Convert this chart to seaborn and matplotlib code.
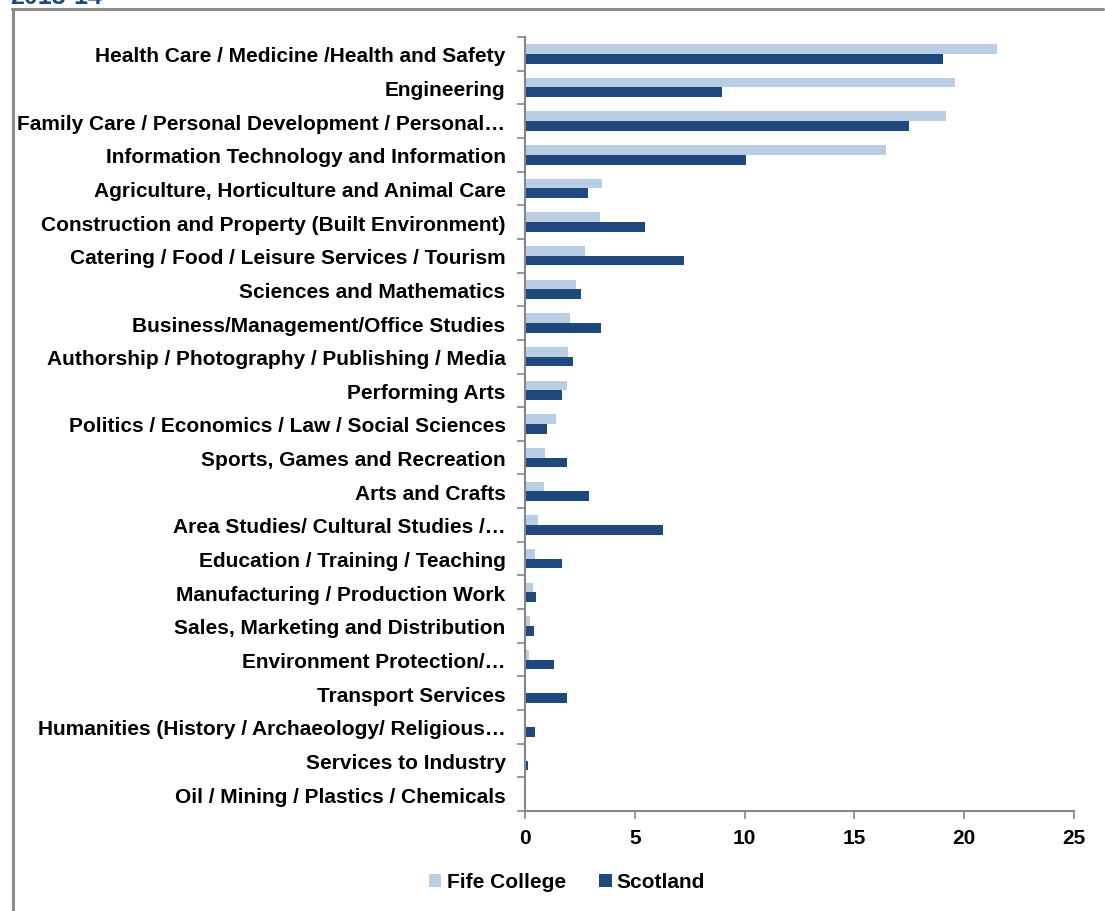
import pandas as pd
import matplotlib
import matplotlib.pyplot as plt
import seaborn as sns
from matplotlib.lines import Line2D

matplotlib.use('Agg')

# Subject areas, top to bottom as in the chart
categories = [
    'Health Care / Medicine /Health and Safety',
    'Engineering',
    'Family Care / Personal Development / Personal…',
    'Information Technology and Information',
    'Agriculture, Horticulture and Animal Care',
    'Construction and Property (Built Environment)',
    'Catering / Food / Leisure Services / Tourism',
    'Sciences and Mathematics',
    'Business/Management/Office Studies',
    'Authorship / Photography / Publishing / Media',
    'Performing Arts',
    'Politics / Economics / Law / Social Sciences',
    'Sports, Games and Recreation',
    'Arts and Crafts',
    'Area Studies/ Cultural Studies /…',
    'Education / Training / Teaching',
    'Manufacturing / Production Work',
    'Sales, Marketing and Distribution',
    'Environment Protection/…',
    'Transport Services',
    'Humanities (History / Archaeology/ Religious…',
    'Services to Industry',
    'Oil / Mining / Plastics / Chemicals',
]

fife_college = [21.5, 19.6, 19.15, 16.45, 3.5, 3.4, 2.75, 2.3, 2.05, 1.95, 1.9, 1.4,
                0.9, 0.85, 0.6, 0.45, 0.35, 0.25, 0.17, 0.03, 0.05, 0.02, 0.03]
scotland = [19.05, 8.95, 17.5, 10.05, 2.85, 5.45, 7.25, 2.55, 3.45, 2.2, 1.7, 1.02,
            1.9, 2.9, 6.3, 1.67, 0.5, 0.43, 1.3, 1.9, 0.47, 0.12, 0.03]

series = ['Fife College', 'Scotland']
colours = ['#B9CDE5', '#1F497D']
x_ticks = [0, 5, 10, 15, 20, 25]

df = pd.DataFrame({
    'Subject': categories * 2,
    'Percent': fife_college + scotland,
    'Series': [series[0]] * len(categories) + [series[1]] * len(categories),
})

sns.set_style('white')
plt.rcParams['font.family'] = ['Liberation Sans', 'DejaVu Sans']
plt.rcParams['font.weight'] = 'bold'
plt.rcParams['text.color'] = 'black'
plt.rcParams['xtick.color'] = 'black'
plt.rcParams['ytick.color'] = 'black'

W, H = 1105, 912
fs = 15
fig = plt.figure(figsize=(W / 100, H / 100), dpi=100)
ax = fig.add_axes([525 / W, 1 - 812 / H, (1074 - 525) / W, (812 - 38) / H])

sns.barplot(data=df, y='Subject', x='Percent', hue='Series', order=categories,
            hue_order=series, palette=colours, orient='h', width=0.58,
            linewidth=0, saturation=1, ax=ax)

# axes styling (Excel-like)
grey = '#868686'
ax.set_xlim(0, 25)
ax.set_ylim(len(categories) - 0.5, -0.5)
ax.set_xticks(x_ticks)
ax.set_xticklabels([str(t) for t in x_ticks], fontsize=fs, fontweight='bold')
ax.set_yticks([i - 0.5 for i in range(len(categories) + 1)])
ax.set_yticklabels([])
ax.set_yticks(range(len(categories)), minor=True)
ax.set_yticklabels(categories, minor=True, fontsize=fs, fontweight='bold')
ax.tick_params(axis='y', which='major', length=6, width=1.2, color=grey, direction='out', left=True)
ax.tick_params(axis='y', which='minor', length=0, pad=14)
ax.tick_params(axis='x', length=6, width=1.2, color=grey, labelcolor='black',
               direction='out', bottom=True, pad=6)
ax.set_xlabel('')
ax.set_ylabel('')
for s in ['top', 'right']:
    ax.spines[s].set_visible(False)
for s in ['left', 'bottom']:
    ax.spines[s].set_color(grey)
    ax.spines[s].set_linewidth(1.5)

leg = ax.legend(loc='center', bbox_to_anchor=(567 / W, 1 - 883 / H), bbox_transform=fig.transFigure,
                ncol=2, frameon=False, handlelength=0.6, handleheight=0.6, handletextpad=0.25,
                columnspacing=1.6, prop={'size': fs, 'weight': 'bold'})

# outer frame and cut-off heading
fig.add_artist(Line2D([12 / W, 1103 / W], [1 - 10 / H, 1 - 10 / H], color='#8C8C8C', lw=2.2))
fig.add_artist(Line2D([13 / W, 13 / W], [1 - 10 / H, 0], color='#8C8C8C', lw=2.2))
fig.text(10 / W, 1 - 4 / H, '2013-14', color='#1F497D', fontsize=18, fontweight='bold',
         va='baseline', ha='left')

fig.savefig('out.png', dpi=100)
